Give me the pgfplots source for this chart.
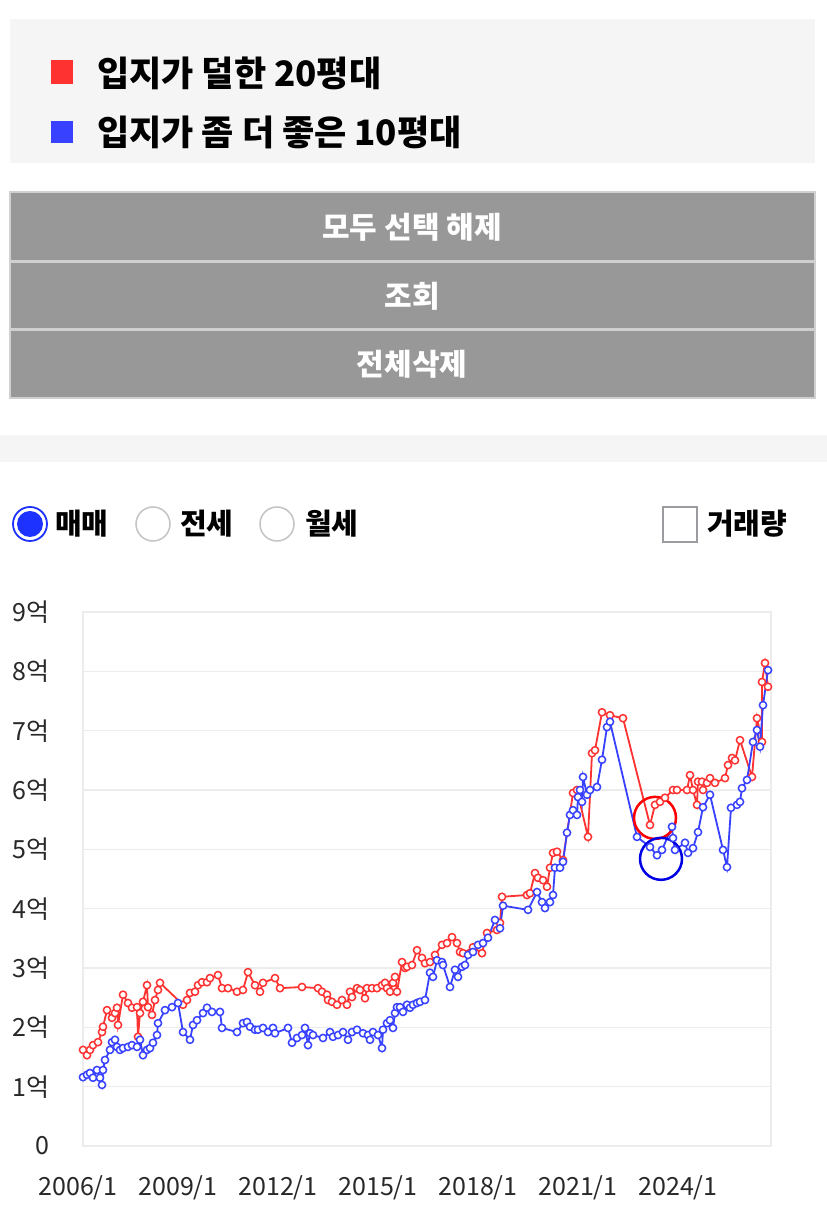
\documentclass[border=0pt]{standalone}
\usepackage{fontspec}
\setmainfont{Noto Sans CJK KR}
\usepackage{pgfplots}
\pgfplotsset{compat=1.18}
\definecolor{sred}{RGB}{255,50,50}
\definecolor{sblue}{RGB}{55,65,255}
\definecolor{lgbg}{RGB}{245,245,245}
\definecolor{btn}{RGB}{152,152,152}
\definecolor{btnline}{RGB}{208,208,208}
\definecolor{gridc}{RGB}{236,236,236}
\definecolor{tickc}{RGB}{40,40,40}
\definecolor{radioblue}{RGB}{30,50,255}
\definecolor{radiogray}{RGB}{195,195,200}
\begin{document}
\begin{tikzpicture}[x=1pt,y=1pt]
\fill[white] (0,0) rectangle (827,1211);
% legend panel
\fill[lgbg] (10,1048) rectangle (815,1192);
\fill[sred] (51,1127) rectangle (73,1151);
\fill[sblue] (51,1068) rectangle (73,1090);
\node[anchor=west,inner sep=0pt,font=\fontsize{35}{40}\selectfont\bfseries] at (97,1138) {입지가 덜한 20평대};
\node[anchor=west,inner sep=0pt,font=\fontsize{35}{40}\selectfont\bfseries] at (97,1079) {입지가 좀 더 좋은 10평대};
% buttons
\fill[btn] (10,813) rectangle (815,1019);
\draw[btnline,line width=2pt] (10,813) rectangle (815,1019);
\draw[btnline,line width=3pt] (10,949) -- (815,949);
\draw[btnline,line width=3pt] (10,881) -- (815,881);
\node[text=white,font=\fontsize{30}{34}\selectfont\bfseries] at (412,984) {모두 선택 해제};
\node[text=white,font=\fontsize{30}{34}\selectfont\bfseries] at (412,915) {조회};
\node[text=white,font=\fontsize{30}{34}\selectfont\bfseries] at (412,847) {전체삭제};
% separator band
\fill[lgbg] (0,749) rectangle (827,776);
% radio row
\draw[radioblue,line width=1.8pt] (30,687) circle[radius=17];
\fill[radioblue] (30,687) circle[radius=13];
\draw[radiogray,line width=1.5pt] (153,687) circle[radius=17];
\draw[radiogray,line width=1.5pt] (277,687) circle[radius=17];
\node[anchor=west,inner sep=0pt,font=\fontsize{29}{33}\selectfont\bfseries] at (55,687) {매매};
\node[anchor=west,inner sep=0pt,font=\fontsize{29}{33}\selectfont\bfseries] at (180,687) {전세};
\node[anchor=west,inner sep=0pt,font=\fontsize{29}{33}\selectfont\bfseries] at (305,687) {월세};
\draw[radiogray!80!black,line width=1.5pt] (663,669) rectangle (697,704);
\node[anchor=west,inner sep=0pt,font=\fontsize{29}{33}\selectfont\bfseries] at (707,687) {거래량};
% chart
\begin{axis}[
  at={(83pt,65pt)}, anchor=south west,
  scale only axis, width=688pt, height=534pt,
  xmin=2006, xmax=2026.64, ymin=0, ymax=9,
  xtick={2006,2009,2012,2015,2018,2021,2024},
  xticklabels={2006/1,2009/1,2012/1,2015/1,2018/1,2021/1,2024/1},
  ytick={0,1,2,3,4,5,6,7,8,9},
  yticklabels={0,1억,2억,3억,4억,5억,6억,7억,8억,9억},
  major tick length=0pt,
  ymajorgrids, grid style={draw=gridc,line width=1.3pt},
  axis line style={draw=gridc,line width=1.3pt},
  yticklabel style={font=\fontsize{25}{30}\selectfont,text=tickc,anchor=east,inner sep=0pt,xshift=-33pt},
  xticklabel style={font=\fontsize{25}{30}\selectfont,text=tickc,anchor=center,inner sep=0pt,yshift=-42pt,xshift=-5pt},
  clip=false,
]
\addplot[sred,line width=1.8pt,mark=*,mark size=3.6pt,mark options={fill=white,draw=sred,line width=1.5pt}] table {
x y
2006.00 1.62
2006.12 1.53
2006.21 1.62
2006.30 1.70
2006.45 1.75
2006.57 1.92
2006.60 2.01
2006.72 2.29
2006.87 2.16
2006.96 2.24
2007.02 2.33
2007.05 2.04
2007.20 2.55
2007.35 2.41
2007.47 2.33
2007.62 2.34
2007.65 1.84
2007.71 2.24
2007.80 2.43
2007.92 2.71
2007.95 2.34
2008.07 2.21
2008.16 2.46
2008.25 2.63
2008.31 2.75
2009.00 2.38
2009.12 2.46
2009.21 2.58
2009.36 2.60
2009.45 2.71
2009.57 2.76
2009.72 2.76
2009.81 2.83
2010.05 2.88
2010.17 2.66
2010.35 2.66
2010.62 2.60
2010.80 2.63
2010.95 2.93
2011.16 2.71
2011.31 2.60
2011.40 2.75
2011.76 2.83
2011.91 2.66
2012.57 2.68
2013.05 2.66
2013.17 2.60
2013.32 2.55
2013.35 2.46
2013.47 2.43
2013.62 2.38
2013.77 2.46
2013.92 2.38
2014.01 2.60
2014.07 2.51
2014.22 2.66
2014.31 2.63
2014.46 2.49
2014.52 2.66
2014.67 2.66
2014.82 2.66
2014.97 2.71
2015.06 2.75
2015.12 2.66
2015.21 2.60
2015.30 2.75
2015.36 2.85
2015.42 2.60
2015.57 3.10
2015.66 3.00
2015.72 3.02
2015.87 3.05
2016.02 3.30
2016.17 3.17
2016.26 3.08
2016.41 3.10
2016.56 3.22
2016.77 3.39
2016.92 3.42
2017.07 3.52
2017.22 3.42
2017.31 3.27
2017.40 3.25
2017.70 3.35
2017.97 3.25
2018.12 3.59
2018.42 3.64
2018.51 3.76
2018.57 4.20
2019.32 4.23
2019.41 4.26
2019.56 4.60
2019.65 4.52
2019.80 4.48
2019.92 4.37
2020.01 4.69
2020.10 4.94
2020.22 4.96
2020.40 4.82
2020.70 5.95
2020.82 6.00
2021.15 5.21
2021.27 6.62
2021.36 6.67
2021.57 7.31
2021.81 7.26
2022.20 7.21
2023.01 5.41
2023.16 5.75
2023.31 5.80
2023.46 5.87
2023.70 6.00
2023.82 6.00
2024.12 6.00
2024.21 6.25
2024.30 6.00
2024.42 5.75
2024.45 6.14
2024.57 6.14
2024.60 6.00
2024.72 6.12
2024.81 6.20
2024.96 6.12
2025.26 6.20
2025.35 6.42
2025.47 6.54
2025.56 6.50
2025.71 6.84
2026.07 6.22
2026.22 7.21
2026.37 6.81
2026.37 7.82
2026.46 8.14
2026.55 7.74
};
\addplot[sblue,line width=1.8pt,mark=*,mark size=3.6pt,mark options={fill=white,draw=sblue,line width=1.5pt}] table {
x y
2006.00 1.16
2006.12 1.20
2006.21 1.23
2006.30 1.15
2006.42 1.28
2006.51 1.15
2006.57 1.03
2006.60 1.28
2006.66 1.45
2006.81 1.62
2006.87 1.75
2006.96 1.79
2007.02 1.67
2007.11 1.62
2007.20 1.65
2007.35 1.67
2007.47 1.70
2007.62 1.67
2007.71 1.79
2007.80 1.53
2007.92 1.62
2008.01 1.65
2008.10 1.74
2008.22 1.87
2008.25 2.07
2008.46 2.29
2008.67 2.34
2008.85 2.41
2009.00 1.92
2009.21 1.79
2009.30 2.04
2009.42 2.12
2009.60 2.24
2009.72 2.33
2009.87 2.26
2010.11 2.26
2010.17 1.99
2010.62 1.92
2010.80 2.07
2010.92 2.09
2011.01 2.01
2011.16 1.96
2011.25 1.96
2011.40 1.99
2011.55 1.92
2011.70 1.99
2011.76 1.90
2012.15 1.99
2012.27 1.74
2012.42 1.82
2012.57 1.87
2012.66 1.99
2012.75 1.70
2012.81 1.90
2012.90 1.87
2013.20 1.82
2013.41 1.92
2013.50 1.84
2013.65 1.87
2013.80 1.92
2013.95 1.79
2014.07 1.92
2014.22 1.96
2014.40 1.90
2014.55 1.87
2014.61 1.79
2014.70 1.92
2014.85 1.87
2014.97 1.65
2015.00 1.96
2015.12 2.07
2015.21 2.12
2015.30 1.99
2015.36 2.24
2015.42 2.34
2015.51 2.34
2015.60 2.26
2015.72 2.38
2015.81 2.33
2015.90 2.38
2016.02 2.41
2016.11 2.43
2016.26 2.46
2016.41 2.92
2016.50 2.85
2016.62 3.13
2016.77 3.10
2016.80 3.05
2017.01 2.68
2017.16 2.97
2017.25 2.85
2017.37 3.02
2017.46 3.05
2017.55 3.22
2017.70 3.27
2017.85 3.39
2018.00 3.42
2018.15 3.51
2018.36 3.81
2018.51 3.67
2018.60 4.05
2019.35 3.98
2019.62 4.28
2019.77 4.11
2019.86 4.01
2020.01 4.11
2020.10 4.23
2020.16 4.69
2020.31 4.69
2020.40 4.79
2020.52 5.28
2020.61 5.58
2020.70 5.66
2020.82 5.58
2020.85 5.88
2020.91 6.00
2020.97 5.80
2021.00 6.22
2021.12 5.92
2021.21 6.00
2021.42 6.05
2021.57 6.51
2021.72 7.06
2021.81 7.15
2022.62 5.21
2023.01 5.04
2023.22 4.90
2023.37 4.99
2023.67 5.38
2023.70 5.19
2023.76 4.99
2024.06 5.11
2024.15 4.94
2024.30 5.02
2024.45 5.29
2024.60 5.71
2024.81 5.92
2025.20 4.99
2025.32 4.70
2025.44 5.70
2025.62 5.75
2025.71 5.80
2025.77 6.03
2025.92 6.17
2026.10 6.81
2026.22 7.01
2026.31 6.73
2026.40 7.43
2026.55 8.02
};
\draw[red,line width=2.5pt] (axis cs:2023.16,5.53) circle[radius=21pt];
\draw[blue!90!black,line width=2.5pt] (axis cs:2023.34,4.84) circle[radius=21pt];
\end{axis}
\end{tikzpicture}
\end{document}
